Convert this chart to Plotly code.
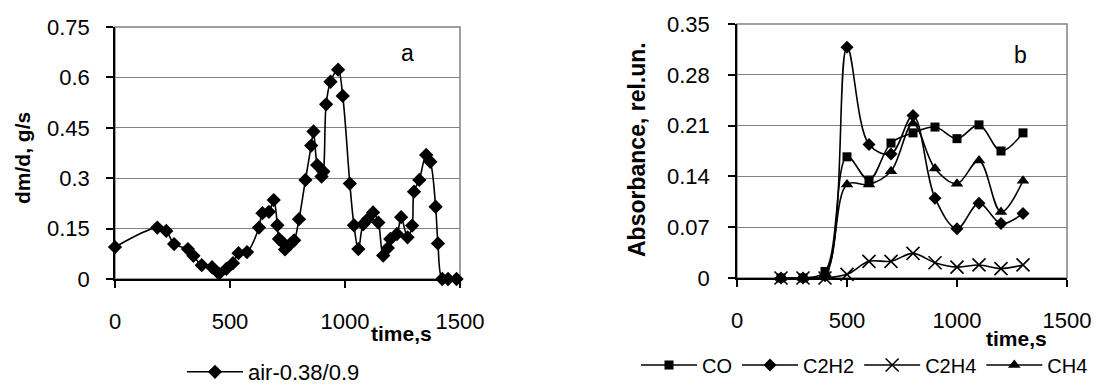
import plotly.graph_objects as go

W, H = 1099, 385

# ---- panel a data ----
time_a = [0, 184, 223, 257, 317, 341, 377, 422, 452, 484, 513, 537, 574, 626, 641, 669, 690, 706,
          713, 729, 739, 764, 779, 800, 828, 853, 863, 879, 898, 906, 918, 937, 970, 990, 1021,
          1039, 1058, 1079, 1099, 1122, 1145, 1166, 1186, 1197, 1226, 1244, 1272, 1292, 1300,
          1323, 1353, 1371, 1394, 1404, 1423, 1448, 1485]
dmdt_a = [0.095, 0.153, 0.143, 0.104, 0.089, 0.069, 0.041, 0.035, 0.016, 0.030, 0.047, 0.077,
          0.080, 0.153, 0.196, 0.200, 0.235, 0.160, 0.119, 0.109, 0.088, 0.105, 0.115, 0.178,
          0.295, 0.397, 0.439, 0.339, 0.305, 0.320, 0.520, 0.587, 0.623, 0.545, 0.284, 0.160,
          0.089, 0.163, 0.178, 0.198, 0.168, 0.070, 0.092, 0.119, 0.134, 0.184, 0.124, 0.159,
          0.260, 0.295, 0.369, 0.349, 0.215, 0.106, 0.0, 0.0, 0.0]
name_a = "air-0.38/0.9"
yticks_a = [0, 0.15, 0.3, 0.45, 0.6, 0.75]
yticktext_a = ["0", "0.15", "0.3", "0.45", "0.6", "0.75"]

# ---- panel b data ----
time_b = [200, 300, 400, 500, 600, 700, 800, 900, 1000, 1100, 1200, 1300]
co_b = [0.0, 0.0, 0.009, 0.167, 0.135, 0.186, 0.200, 0.208, 0.192, 0.211, 0.175, 0.200]
c2h2_b = [0.0, 0.0, 0.003, 0.318, 0.184, 0.171, 0.224, 0.110, 0.068, 0.103, 0.075, 0.089]
c2h4_b = [0.0, 0.0, 0.0, 0.005, 0.023, 0.023, 0.034, 0.021, 0.015, 0.018, 0.013, 0.018]
ch4_b = [0.0, 0.0, 0.005, 0.129, 0.129, 0.147, 0.213, 0.151, 0.130, 0.162, 0.091, 0.134]
yticks_b = [0, 0.07, 0.14, 0.21, 0.28, 0.35]
yticktext_b = ["0", "0.07", "0.14", "0.21", "0.28", "0.35"]
xticks = [0, 500, 1000, 1500]

FONT = "Arial, Liberation Sans, sans-serif"
TICKSIZE = 22
LEGSIZE_A = 22
LEGSIZE_B = 20


def px_x(p):
    return p / W


def px_y(p):
    return 1 - p / H


fig = go.Figure()

line_style = dict(color="black", width=1.6, shape="spline", smoothing=1)

fig.add_trace(go.Scatter(x=time_a, y=dmdt_a, mode="lines+markers", name=name_a,
                         line=line_style, cliponaxis=False,
                         marker=dict(symbol="diamond", size=11, color="black"),
                         xaxis="x", yaxis="y", legend="legend"))

series_b = [("CO", co_b, dict(symbol="square", size=9, color="black")),
            ("C2H2", c2h2_b, dict(symbol="diamond", size=10, color="black")),
            ("C2H4", c2h4_b, dict(symbol="x-thin-open", size=13, color="black",
                                  line=dict(width=1.6, color="black"))),
            ("CH4", ch4_b, dict(symbol="triangle-up", size=11, color="black"))]
for nm, vals, mk in series_b:
    fig.add_trace(go.Scatter(x=time_b, y=vals, mode="lines+markers", name=nm,
                             line=line_style, marker=mk, cliponaxis=False,
                             xaxis="x2", yaxis="y2", legend="legend2"))

# plot area pixel boxes
A = dict(x0=115, x1=460, y0=27, y1=279)
B = dict(x0=737, x1=1067, y0=24, y1=278)

axis_common = dict(showline=True, linecolor="black", linewidth=1.5, ticks="outside",
                   ticklen=7, tickcolor="black", tickwidth=1.5, zeroline=False,
                   automargin=False,
                   tickfont=dict(family=FONT, size=TICKSIZE, color="black"))

fig.update_layout(
    width=W, height=H, margin=dict(l=0, r=0, t=0, b=0, pad=0, autoexpand=False),
    paper_bgcolor="white", plot_bgcolor="white",
    showlegend=True,
    xaxis=dict(domain=[px_x(A["x0"]), px_x(A["x1"])], range=[0, 1500], tickvals=xticks,
               showgrid=False, anchor="y", ticklabelstandoff=15, **axis_common),
    yaxis=dict(domain=[px_y(A["y1"]), px_y(A["y0"])], range=[0, 0.75], tickvals=yticks_a,
               ticktext=yticktext_a, showgrid=True, gridcolor="#808080", gridwidth=1,
               anchor="x", ticklabelstandoff=12, **axis_common),
    xaxis2=dict(domain=[px_x(B["x0"]), px_x(B["x1"])], range=[0, 1500], tickvals=xticks,
                showgrid=False, anchor="y2", ticklabelstandoff=15, **axis_common),
    yaxis2=dict(domain=[px_y(B["y1"]), px_y(B["y0"])], range=[0, 0.35], tickvals=yticks_b,
                ticktext=yticktext_b, showgrid=True, gridcolor="#808080", gridwidth=1,
                anchor="x2", ticklabelstandoff=14, **axis_common),
    legend=dict(orientation="h", x=px_x(182), y=px_y(372), xanchor="left", yanchor="middle",
                font=dict(family=FONT, size=LEGSIZE_A, color="black"), itemwidth=56,
                bgcolor="rgba(0,0,0,0)"),
    legend2=dict(orientation="h", x=px_x(636), y=px_y(365), xanchor="left", yanchor="middle",
                 font=dict(family=FONT, size=LEGSIZE_B, color="black"), itemwidth=56,
                 bgcolor="rgba(0,0,0,0)"),
)

# gray plot-area frame (top and right edges)
for xr, yr in (("x domain", "y domain"), ("x2 domain", "y2 domain")):
    fig.add_shape(type="rect", xref=xr, yref=yr, x0=0, x1=1, y0=0, y1=1,
                  line=dict(color="#808080", width=1.5), layer="below")

annots = [
    dict(text="a", x=px_x(407), y=px_y(53), font=dict(size=23)),
    dict(text="b", x=px_x(1020), y=px_y(55), font=dict(size=23)),
    dict(text="<b>time,s</b>", x=px_x(401), y=px_y(333), font=dict(size=21)),
    dict(text="<b>time,s</b>", x=px_x(1016), y=px_y(338), font=dict(size=21)),
    dict(text="<b>dm/d, g/s</b>", x=px_x(22), y=px_y(158), font=dict(size=21), textangle=-90),
    dict(text="<b>Absorbance, rel.un.</b>", x=px_x(637), y=px_y(150), font=dict(size=23),
         textangle=-90),
]
for a in annots:
    a["font"].update(family=FONT, color="black")
    fig.add_annotation(xref="paper", yref="paper", showarrow=False, xanchor="center",
                       yanchor="middle", **a)

fig.write_html("out.html", config={"displayModeBar": False},
               post_script="document.body.style.margin='0';document.body.style.overflow='hidden';")
